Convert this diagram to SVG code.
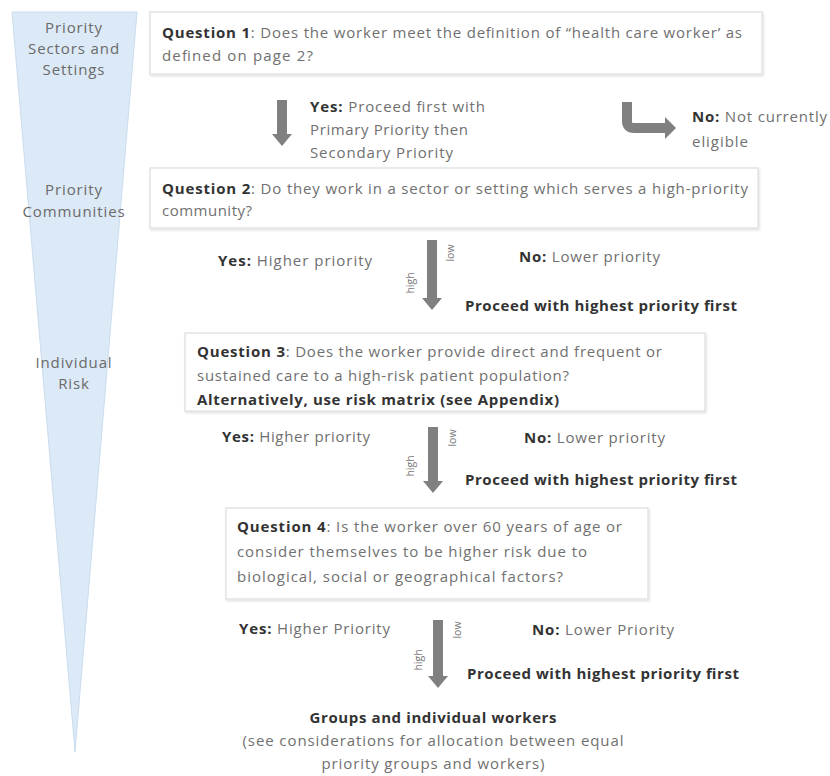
<svg xmlns="http://www.w3.org/2000/svg" width="830" height="776" viewBox="0 0 830 776">
<style>
text{font-family:"Open Sans","Liberation Sans",sans-serif;font-size:15px;fill:#707070}
.b{font-weight:bold;fill:#333}
.lbl{font-size:15px;letter-spacing:0.9px;fill:#6a6a6a;text-anchor:middle}
.tiny{font-size:10.5px;fill:#777;text-anchor:middle}
.box{fill:#fff;stroke:#e3e3e3;stroke-width:1.5}
.arr{fill:#808080}
.mid{text-anchor:middle}
</style>
<defs>
<filter id="sh" x="-5%" y="-10%" width="110%" height="130%">
<feDropShadow dx="1" dy="1.5" stdDeviation="1.2" flood-color="#000" flood-opacity="0.12"/>
</filter>
</defs>
<rect width="830" height="776" fill="#fff"/>
<g id="funnel">
<polygon points="12,12 137,12 75,752" fill="#dce9f6" stroke="#cadcef" stroke-width="1"/>
<text class="lbl" x="74" y="33">Priority</text>
<text class="lbl" x="74" y="54">Sectors and</text>
<text class="lbl" x="74" y="75">Settings</text>
<text class="lbl" x="74" y="195">Priority</text>
<text class="lbl" x="74" y="217">Communities</text>
<text class="lbl" x="74" y="368">Individual</text>
<text class="lbl" x="74" y="389">Risk</text>
</g>
<g id="q1">
<rect class="box" x="150" y="12" width="612" height="62" filter="url(#sh)"/>
<text x="162" y="38" textLength="580" lengthAdjust="spacing"><tspan class="b">Question 1</tspan>: Does the worker meet the definition of  “health care worker’ as</text>
<text x="162" y="61" textLength="151" lengthAdjust="spacing">defined on page 2?</text>
</g>
<g id="q1-yes">
<text x="310" y="112" textLength="175" lengthAdjust="spacing"><tspan class="b">Yes:</tspan> Proceed first with</text>
<text x="310" y="135" textLength="158" lengthAdjust="spacing">Primary Priority then</text>
<text x="310" y="158" textLength="143" lengthAdjust="spacing">Secondary Priority</text>
</g>
<g id="q1-no">
<text x="692" y="122" textLength="135" lengthAdjust="spacing"><tspan class="b">No:</tspan> Not currently</text>
<text x="692" y="147" textLength="56" lengthAdjust="spacing">eligible</text>
</g>
<g id="q2">
<rect class="box" x="150" y="168" width="608" height="60" filter="url(#sh)"/>
<text x="162" y="194" textLength="586" lengthAdjust="spacing"><tspan class="b">Question 2</tspan>: Do they work in a sector or setting which serves a high-priority</text>
<text x="162" y="216" textLength="90" lengthAdjust="spacing">community?</text>
</g>
<g id="q2-out">
<text x="218" y="266" textLength="154" lengthAdjust="spacing"><tspan class="b">Yes:</tspan>  Higher priority</text>
<text x="519" y="262" textLength="141" lengthAdjust="spacing"><tspan class="b">No:</tspan> Lower priority</text>
<text class="b" x="465" y="311" textLength="272" lengthAdjust="spacing">Proceed with highest priority first</text>
</g>
<g id="q3">
<rect class="box" x="185" y="333" width="520" height="78" filter="url(#sh)"/>
<text x="197" y="357" textLength="465" lengthAdjust="spacing"><tspan class="b">Question 3</tspan>: Does the worker provide direct and frequent or</text>
<text x="197" y="381" textLength="372" lengthAdjust="spacing">sustained care to a high-risk patient population?</text>
<text class="b" x="197" y="405" textLength="362" lengthAdjust="spacing">Alternatively, use risk matrix (see Appendix)</text>
</g>
<g id="q3-out">
<text x="222" y="442" textLength="148" lengthAdjust="spacing"><tspan class="b">Yes:</tspan> Higher priority</text>
<text x="524" y="443" textLength="141" lengthAdjust="spacing"><tspan class="b">No:</tspan> Lower priority</text>
<text class="b" x="465" y="485" textLength="272" lengthAdjust="spacing">Proceed with highest priority first</text>
</g>
<g id="q4">
<rect class="box" x="226" y="508" width="422" height="91" filter="url(#sh)"/>
<text x="237" y="532" textLength="385" lengthAdjust="spacing"><tspan class="b">Question 4</tspan>: Is the worker over 60 years of age or</text>
<text x="237" y="557" textLength="350" lengthAdjust="spacing">consider themselves to be higher risk due to</text>
<text x="237" y="582" textLength="326" lengthAdjust="spacing">biological, social or geographical factors?</text>
</g>
<g id="q4-out">
<text x="239" y="634" textLength="151" lengthAdjust="spacing"><tspan class="b">Yes:</tspan> Higher Priority</text>
<text x="532" y="635" textLength="142" lengthAdjust="spacing"><tspan class="b">No:</tspan> Lower Priority</text>
<text class="b" x="467" y="679" textLength="272" lengthAdjust="spacing">Proceed with highest priority first</text>
</g>
<g id="result">
<text class="b mid" x="433" y="723" textLength="247" lengthAdjust="spacing">Groups and individual workers</text>
<text class="mid" x="433" y="746" textLength="381" lengthAdjust="spacing">(see considerations for allocation between equal</text>
<text class="mid" x="433" y="769" textLength="223" lengthAdjust="spacing">priority groups and workers)</text>
</g>
<g id="connectors">
<polygon class="arr" points="277,100 287,100 287,134 292,134 282,146 272,134 277,134"/>
<path d="M627,102 V121 Q627,128 634,128 H666" fill="none" stroke="#808080" stroke-width="10"/>
<polygon class="arr" points="665,117 676,128 665,139"/>
<polygon class="arr" points="427,240 437,240 437,298 442,298 432,310 422,298 427,298"/>
<polygon class="arr" points="428,427 438,427 438,481 443,481 433,493 423,481 428,481"/>
<polygon class="arr" points="433,620 443,620 443,676 448,676 438,688 428,676 433,676"/>
<text class="tiny" transform="translate(454,253) rotate(-90)">low</text>
<text class="tiny" transform="translate(414,283) rotate(-90)">high</text>
<text class="tiny" transform="translate(456,438) rotate(-90)">low</text>
<text class="tiny" transform="translate(414,466) rotate(-90)">high</text>
<text class="tiny" transform="translate(461,630) rotate(-90)">low</text>
<text class="tiny" transform="translate(422,660) rotate(-90)">high</text>
</g>
</svg>
